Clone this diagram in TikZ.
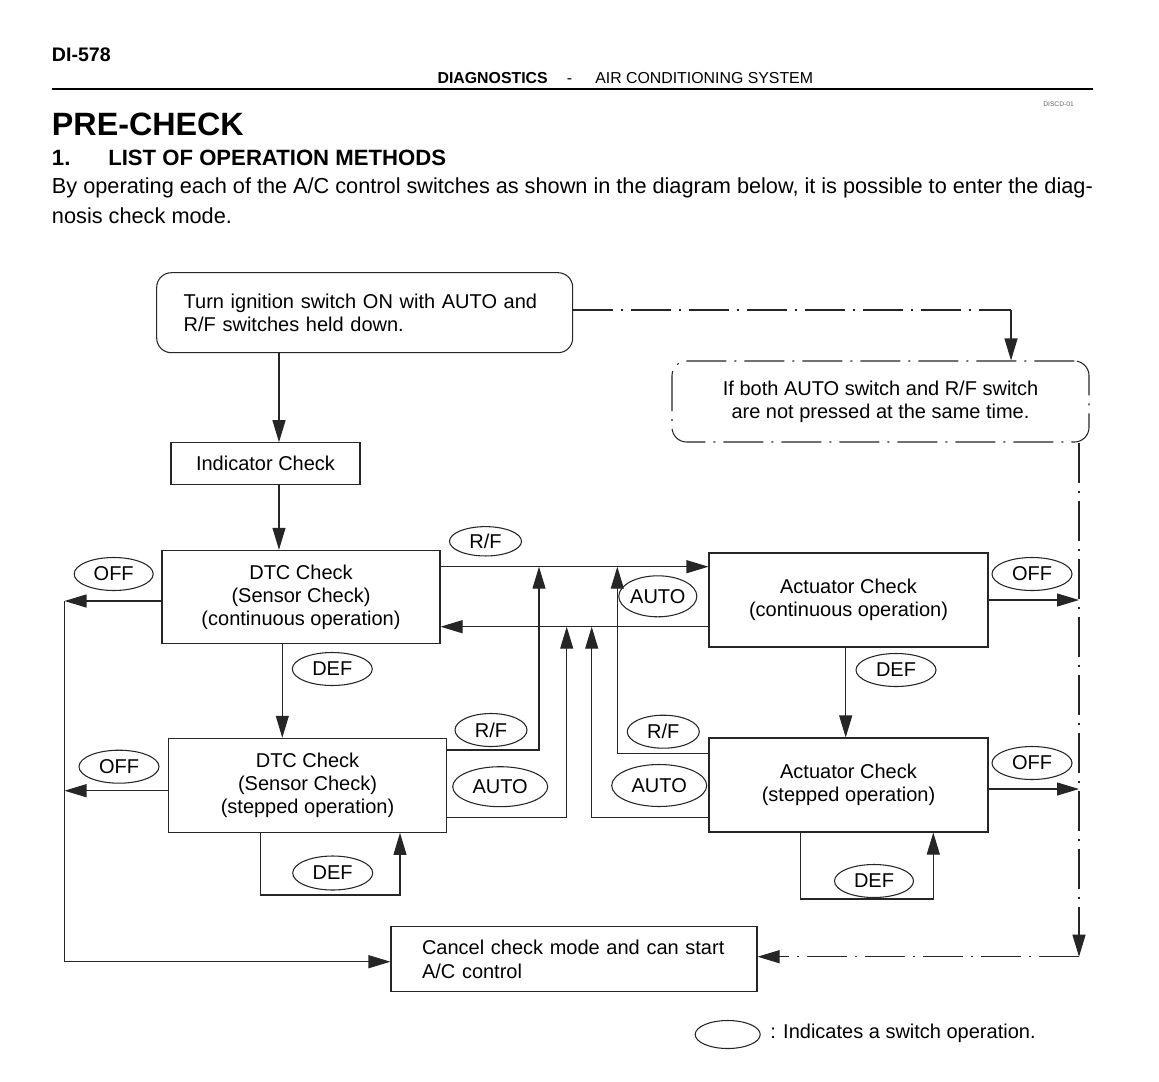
\documentclass[tikz,border=0pt]{standalone}
\usepackage{fontspec}
\setmainfont{Liberation Sans}
\usetikzlibrary{arrows.meta,shapes.geometric}
\newcommand\dgmfont{\fontsize{15}{17.25}\selectfont}
\begin{document}
\begin{tikzpicture}[x=0.75pt,y=-0.75pt,
  ln/.style={line width=0.8pt,draw=black!85},
  arr/.style={ln,-{Triangle[length=16.5pt,width=9.75pt]}},
  dd/.style={dash pattern=on 30pt off 6pt on 1.5pt off 6pt},
  box/.style={ln,rectangle,inner sep=0pt,align=center,font=\dgmfont},
  sw/.style={ln,ellipse,inner sep=0pt,font=\dgmfont},
  txt/.style={inner sep=0pt,anchor=base west}]
\fill[white] (0,0) rectangle (1159,1081);
\useasboundingbox (0,0) rectangle (1159,1081);

% ---------- header ----------
\node[txt,font=\fontsize{14.7}{17}\selectfont\bfseries] (page) at (51.7,61.7) {DI-578};
\node[txt,font=\fontsize{11.9}{14}\selectfont\bfseries] (hdA) at (437.3,84) {DIAGNOSTICS};
\node[txt,font=\fontsize{11.9}{14}\selectfont] (hdB) at (566.7,84) {-};
\node[txt,font=\fontsize{11.9}{14}\selectfont] (hdC) at (595,84) {AIR CONDITIONING SYSTEM};
\draw[line width=1.5pt] (51.7,88.5) -- (1092.5,88.5);
\node[inner sep=0pt,anchor=base east,font=\fontsize{5}{6}\selectfont,text=black!60] (code) at (1074,106) {DISCD-01};
\node[txt,font=\fontsize{24.2}{28}\selectfont\bfseries] (title) at (51.7,135) {PRE-CHECK};
\node[txt,font=\fontsize{16.6}{20}\selectfont\bfseries] (secnum) at (51.7,165) {1.};
\node[txt,font=\fontsize{16.6}{20}\selectfont\bfseries] (sec) at (108,165) {LIST OF OPERATION METHODS};
\node[txt,font=\fontsize{16.3}{21.75}\selectfont] (bodyA) at (51.7,193.3) {\hbox to 780.75pt{By operating each of the A/C control switches as shown in the diagram below, it is possible to enter the diag-}};
\node[txt,font=\fontsize{16.3}{21.75}\selectfont] (bodyB) at (51.7,223.3) {nosis check mode.};

% ---------- boxes ----------
\node[box,rounded corners=11pt,minimum width=312pt,minimum height=60pt,text width=271.5pt,inner xsep=20.25pt,align=left] (start) at (364.7,312.7) {Turn ignition switch ON with AUTO and\\R/F switches held down.};
\node[box,minimum width=141.75pt,minimum height=31pt] (ind) at (265.5,463.4) {Indicator Check};
\node[box,minimum width=208.5pt,minimum height=70pt] (dtcA) at (301,597) {DTC Check\\(Sensor Check)\\(continuous operation)};
\node[box,minimum width=208.5pt,minimum height=70.5pt] (dtcB) at (307.5,785.3) {DTC Check\\(Sensor Check)\\(stepped operation)};
\node[box,minimum width=209.25pt,minimum height=70.5pt] (actA) at (848.5,600) {Actuator Check\\(continuous operation)};
\node[box,minimum width=209.25pt,minimum height=70.5pt] (actB) at (848.5,785) {Actuator Check\\(stepped operation)};
\node[box,minimum width=274.5pt,minimum height=48.75pt,text width=228pt,inner xsep=23.25pt,align=left,font=\fontsize{15}{18}\selectfont] (cancel) at (574,959.2) {Cancel check mode and can start\\A/C control};
\node[box,dd,rounded corners=11pt,minimum width=312.75pt,minimum height=60.75pt] (note) at (880.5,401.5) {If both AUTO switch and R/F switch\\are not pressed at the same time.};

% ---------- switch ellipses ----------
\node[sw,minimum width=59.25pt,minimum height=24.75pt] (offA) at (113.7,574) {OFF};
\node[sw,minimum width=60pt,minimum height=24.75pt] (offB) at (119,766.7) {OFF};
\node[sw,minimum width=60pt,minimum height=24.75pt] (offC) at (1032,574) {OFF};
\node[sw,minimum width=60pt,minimum height=24.75pt] (offD) at (1032,763) {OFF};
\node[sw,minimum width=60pt,minimum height=24.75pt] (defA) at (332.3,669) {DEF};
\node[sw,minimum width=60pt,minimum height=25.5pt] (defB) at (332.7,873) {DEF};
\node[sw,minimum width=60pt,minimum height=24.75pt] (defC) at (896,670) {DEF};
\node[sw,minimum width=59.25pt,minimum height=24.75pt] (defD) at (874,881) {DEF};
\node[sw,minimum width=54pt,minimum height=22pt] (rfA) at (485.5,541.3) {R/F};
\node[sw,minimum width=54pt,minimum height=24.75pt] (rfB) at (491,730) {R/F};
\node[sw,minimum width=54pt,minimum height=24.75pt] (rfC) at (663.3,731.7) {R/F};
\node[sw,minimum width=46pt,minimum height=30.75pt] (autoA) at (657.8,596.3) {AUTO};
\node[sw,minimum width=71.25pt,minimum height=30pt] (autoB) at (500.2,786.7) {AUTO};
\node[sw,minimum width=71.25pt,minimum height=31.5pt] (autoC) at (659.2,785.5) {AUTO};

% ---------- connector coordinates ----------
\coordinate (cIn) at (279,0);
\coordinate (cDef) at (282.3,0);
\coordinate (cAct) at (845.7,0);
\coordinate (L1) at (64.5,601);
\coordinate (L2) at (64.5,790.7);
\coordinate (yLbot) at (0,961.7);
\coordinate (yRF) at (0,566.7);
\coordinate (yAU) at (0,626.7);
\coordinate (jA) at (539,566.7);
\coordinate (jB) at (566.7,626.7);
\coordinate (jC) at (591.7,626.7);
\coordinate (jD) at (617.3,566.7);
\coordinate (yB1) at (0,750);
\coordinate (yB2) at (0,817.7);
\coordinate (yB3) at (0,753.3);
\coordinate (R1) at (1079,600);
\coordinate (R2) at (1079,789);
\coordinate (lpA) at (260.7,895);
\coordinate (lpB) at (400,895);
\coordinate (lpC) at (800.7,899);
\coordinate (lpD) at (933.3,899);
\coordinate (tA) at (1011,310);
\coordinate (rC) at (1079,956.7);

% ---------- connectors ----------
\draw[arr] (start.south -| cIn) -- (ind.north -| cIn);
\draw[arr] (ind.south -| cIn) -- (dtcA.north -| cIn);
\draw[arr] (dtcA.south -| cDef) -- (dtcB.north -| cDef);
\draw[arr] (dtcA.west |- L1) -- (L1);
\draw[arr] (dtcB.west |- L2) -- (L2);
\draw[arr] (L1) |- (cancel.west |- yLbot);
\draw[arr] (dtcA.east |- yRF) -- (actA.west |- yRF);
\draw[arr] (actA.west |- yAU) -- (dtcA.east |- yAU);
\draw[arr] (dtcB.east |- yB1) -| (jA);
\draw[arr] (dtcB.east |- yB2) -| (jB);
\draw[arr] (actB.west |- yB2) -| (jC);
\draw[arr] (actB.west |- yB3) -| (jD);
\draw[arr] (actA.south -| cAct) -- (actB.north -| cAct);
\draw[arr] (actA.east |- R1) -- (R1);
\draw[arr] (actB.east |- R2) -- (R2);
\draw[arr] (dtcB.south -| lpA) -- (lpA) -- (lpB) -- (dtcB.south -| lpB);
\draw[arr] (actB.south -| lpC) -- (lpC) -- (lpD) -- (actB.south -| lpD);
\draw[ln,dd] (start.east |- tA) -- (tA);
\draw[arr] (tA) -- (note.north -| tA);
\draw[arr,dd] (note.south -| R1) -- (rC);
\draw[arr,dd] (rC) -- (cancel.east |- rC);

% ---------- legend ----------
\node[sw,minimum width=48.75pt,minimum height=21pt] (legend) at (727.7,1034.5) {};
\node[txt,font=\dgmfont] (legendtext) at (770,1038) {: Indicates a switch operation.};
\end{tikzpicture}
\end{document}
